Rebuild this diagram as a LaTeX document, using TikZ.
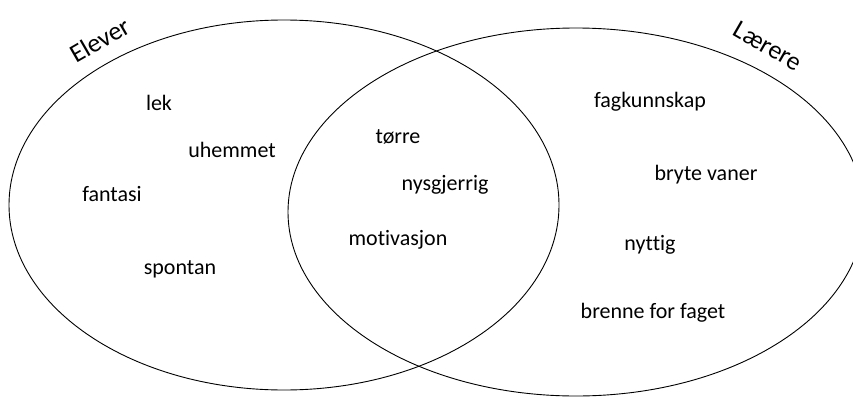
\documentclass[tikz,border=0pt]{standalone}
\usepackage{fontspec}
\setmainfont[Ligatures={NoCommon}]{Carlito}
\begin{document}
\begin{tikzpicture}[x=1pt,y=-1pt,
  word/.style={anchor=base,inner sep=0pt,font=\fontsize{22}{26}\selectfont},
  title/.style={inner sep=0pt,font=\fontsize{26}{30}\selectfont},
  venn/.style={draw=black,line width=0.9pt}]
\useasboundingbox (0,0) rectangle (853,396);
\begin{scope}
\clip (0,0) rectangle (853,396);
\draw[venn] (284,205) ellipse [x radius=275, y radius=185];
\draw[venn] (576,212) ellipse [x radius=288, y radius=184];
\end{scope}
\node[title,rotate=30] (elever) at (100,40) {Elever};
\node[title,rotate=-30] (laerere) at (768,46) {Lærere};
\node[word] (lek) at (159,110) {lek};
\node[word] (uhemmet) at (232,157) {uhemmet};
\node[word] (fantasi) at (112,201) {fantasi};
\node[word] (spontan) at (180,274) {spontan};
\node[word] (torre) at (398,143) {tørre};
\node[word] (nysgjerrig) at (445,190) {nysgjerrig};
\node[word] (motivasjon) at (398,245) {motivasjon};
\node[word] (fagkunnskap) at (650,107) {fagkunnskap};
\node[word] (bryte) at (706,180) {bryte vaner};
\node[word] (nyttig) at (650,250) {nyttig};
\node[word] (brenne) at (653,318) {brenne for faget};
\end{tikzpicture}
\end{document}
